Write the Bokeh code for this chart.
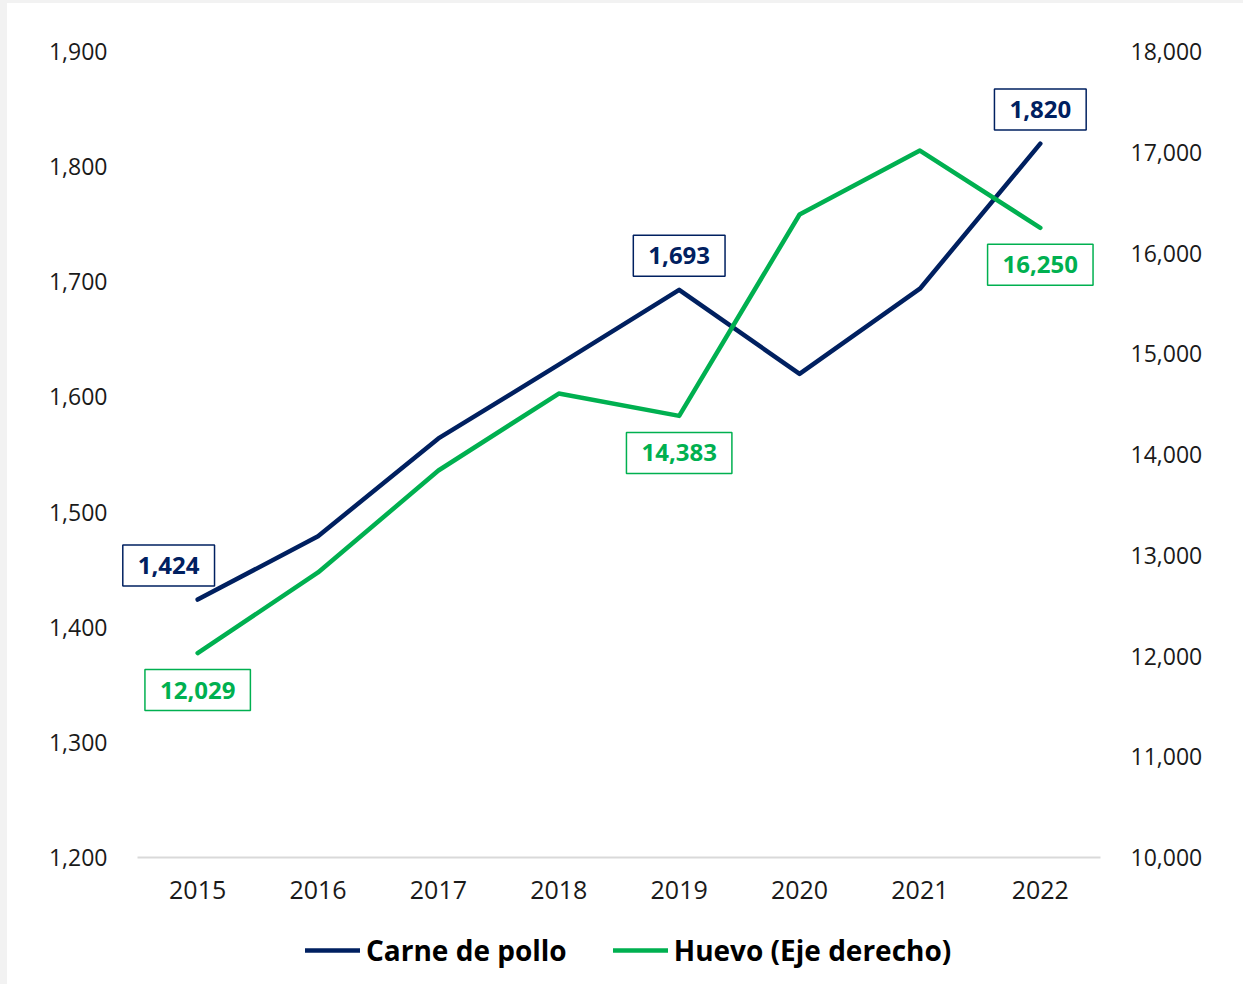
from bokeh.plotting import figure
from bokeh.layouts import column
from bokeh.models import (Range1d, LinearAxis, FixedTicker, NumeralTickFormatter,
                          Label, Legend, LegendItem)
from bokeh.embed import file_html
from bokeh.resources import INLINE

years = [2015, 2016, 2017, 2018, 2019, 2020, 2021, 2022]
carne_pollo = [1424, 1479, 1564, 1628, 1693, 1620, 1694, 1820]
huevo = [12029, 12829, 13841, 14605, 14383, 16382, 17017, 16250]
left_ticks = [1200, 1300, 1400, 1500, 1600, 1700, 1800, 1900]
right_ticks = [10000, 11000, 12000, 13000, 14000, 15000, 16000, 17000, 18000]
carne_labels = {2015: "1,424", 2019: "1,693", 2022: "1,820"}
huevo_labels = {2015: "12,029", 2019: "14,383", 2022: "16,250"}
series_names = ["Carne de pollo", "Huevo (Eje derecho)"]

NAVY = "#002060"
GREEN = "#00B050"
FONT = "Open Sans"

# frame extends a little left of the first category so the 2015 label box is not clipped
p = figure(width=1236, height=917, output_backend="svg", toolbar_location=None,
           x_range=Range1d(2014.359, 2022.5), y_range=Range1d(1200, 1900),
           min_border_left=113, min_border_right=143, min_border_top=48,
           min_border_bottom=63, outline_line_color=None,
           background_fill_color="white", border_fill_color="white")
p.extra_y_ranges = {"right": Range1d(10000, 18000)}

p.xgrid.visible = False
p.ygrid.visible = False

# x axis
xa = p.xaxis[0]
xa.ticker = FixedTicker(ticks=years)
xa.bounds = (2014.5, 2022.5)
xa.axis_line_color = "#d9d9d9"
xa.axis_line_width = 2
xa.major_tick_line_color = None
xa.minor_tick_line_color = None
xa.major_label_standoff = 17
xa.major_label_text_font = FONT
xa.major_label_text_font_size = "25px"
xa.major_label_text_color = "#1a1a1a"

# left axis
ya = p.yaxis[0]
ya.ticker = FixedTicker(ticks=left_ticks)
ya.formatter = NumeralTickFormatter(format="0,0")
ya.axis_line_color = None
ya.major_tick_line_color = None
ya.minor_tick_line_color = None
ya.major_label_standoff = 7
ya.major_label_text_font = FONT
ya.major_label_text_font_size = "23px"
ya.major_label_text_color = "#1a1a1a"

# right axis
ra = LinearAxis(y_range_name="right", ticker=FixedTicker(ticks=right_ticks),
                formatter=NumeralTickFormatter(format="0,0"))
ra.axis_line_color = None
ra.major_tick_line_color = None
ra.minor_tick_line_color = None
ra.major_label_standoff = 24
ra.major_label_text_font = FONT
ra.major_label_text_font_size = "23px"
ra.major_label_text_color = "#1a1a1a"
p.add_layout(ra, "right")

r1 = p.line(years, carne_pollo, line_color=NAVY, line_width=4.5, line_cap="round", line_join="round")
r2 = p.line(years, huevo, line_color=GREEN, line_width=4.5, line_cap="round", line_join="round",
            y_range_name="right")

for yr, txt in carne_labels.items():
    yv = carne_pollo[years.index(yr)]
    dx = -29 if yr == 2015 else 0
    p.add_layout(Label(x=yr, y=yv, text=txt, x_offset=dx, y_offset=34,
                       text_align="center", text_baseline="middle",
                       text_font=FONT, text_font_style="bold", text_font_size="24px",
                       text_color=NAVY, border_line_color=NAVY, border_line_width=1.5,
                       background_fill_color="white", padding=(15, 12)))

for yr, txt in huevo_labels.items():
    yv = huevo[years.index(yr)]
    p.add_layout(Label(x=yr, y=yv, text=txt, y_range_name="right", x_offset=0, y_offset=-37,
                       text_align="center", text_baseline="middle",
                       text_font=FONT, text_font_style="bold", text_font_size="24px",
                       text_color=GREEN, border_line_color=GREEN, border_line_width=1.5,
                       background_fill_color="white", padding=(15, 12)))

# legend strip below the chart (series drawn out of view so only the legend shows)
lg = figure(width=1236, height=64, output_backend="svg", toolbar_location=None,
            x_range=Range1d(0, 1), y_range=Range1d(0, 1),
            x_axis_location=None, y_axis_location=None,
            min_border_left=0, min_border_right=0, min_border_top=0, min_border_bottom=0,
            outline_line_color=None, background_fill_color="white", border_fill_color="white")
lg.xgrid.visible = False
lg.ygrid.visible = False
l1 = lg.line(years, carne_pollo, line_color=NAVY, line_width=4.5, line_cap="round")
l2 = lg.line(years, huevo, line_color=GREEN, line_width=4.5, line_cap="round")
legend = Legend(items=[LegendItem(label=series_names[0], renderers=[l1]),
                       LegendItem(label=series_names[1], renderers=[l2])],
                orientation="horizontal", location=(185, 15),
                label_text_font=FONT, label_text_font_style="bold",
                label_text_font_size="28px", label_text_color="black",
                glyph_width=55, label_standoff=6, spacing=46,
                border_line_color=None, background_fill_color=None,
                background_fill_alpha=0, margin=0, padding=4)
lg.add_layout(legend, "center")

layout = column(p, lg, spacing=0)

html = file_html(layout, INLINE)
html = html.replace("</head>",
                    "<style>html,body{margin:0;padding:0;background:#ffffff;}"
                    "body{border-left:7px solid #f2f2f2;border-top:3px solid #f2f2f2;}</style></head>", 1)
open("out.html", "w").write(html)
